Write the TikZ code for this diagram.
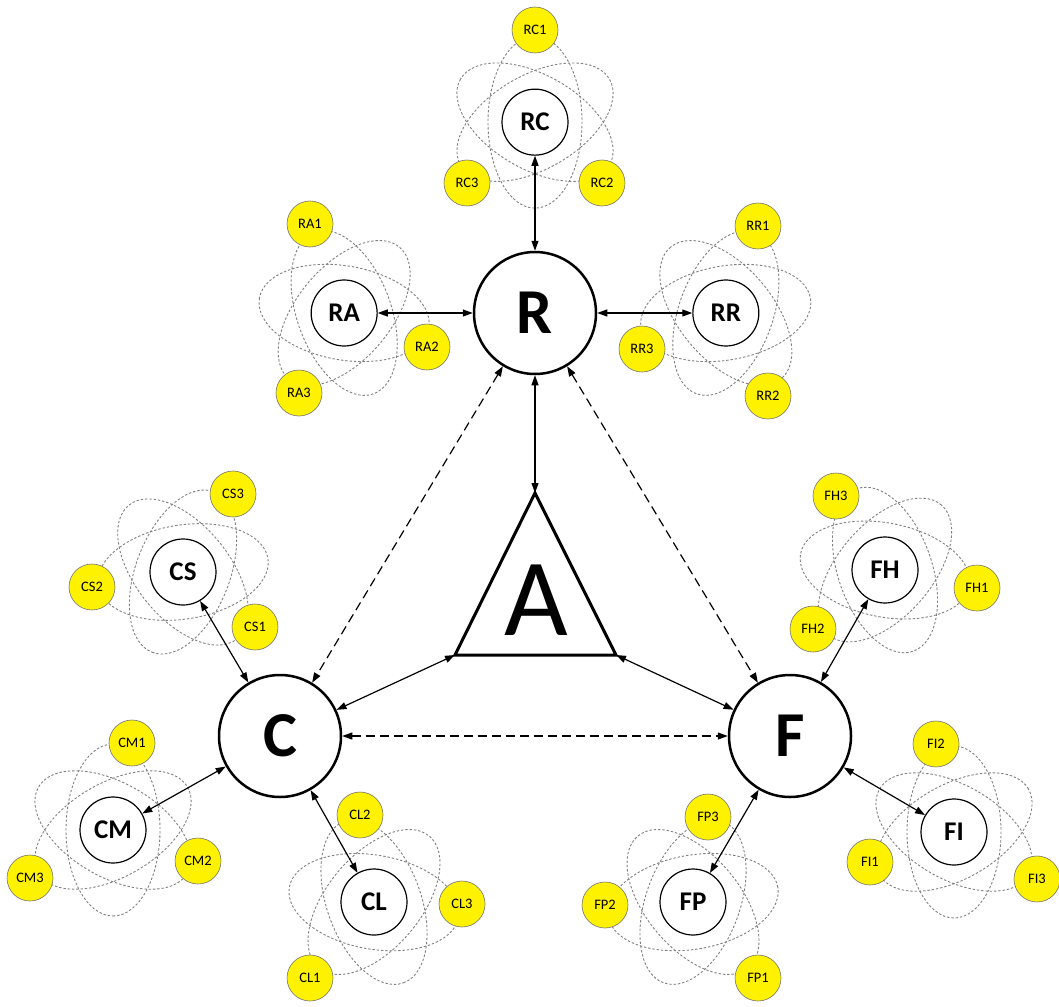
\documentclass[tikz,border=0pt]{standalone}
\usepackage{fontspec}
\setmainfont{Carlito}
\usetikzlibrary{arrows.meta,positioning,backgrounds}

\begin{document}
\begin{tikzpicture}[
    x=1pt, y=-1pt,
    node distance=95pt,
    core/.style={draw, circle, line width=2.5pt, fill=white, minimum size=122pt, inner sep=0pt, font=\fontsize{64}{64}\selectfont\bfseries},
    satellite/.style={draw, circle, line width=1.2pt, fill=white, minimum size=66pt, inner sep=0pt, font=\fontsize{27}{27}\selectfont\bfseries},
    electron/.style={draw=black!55, circle, line width=0.6pt, fill=yellow, minimum size=46pt, inner sep=0pt, font=\fontsize{14.5}{14.5}\selectfont},
    orbit/.style={draw=black!50, line width=0.9pt, dash pattern=on 2.4pt off 1.9pt},
    arrow/.style={<->, >={Triangle[length=10pt, width=7pt]}, line width=1.2pt},
    dasharrow/.style={arrow, dash pattern=on 9pt off 5pt}
]
\useasboundingbox (0,0) rectangle (1059,1006);

% Core triad
\node[core] (R) at (535,313) {R};
\node[core] (C) at (280,736) {C};
\node[core] (F) at (790,736) {F};

% Triangle in the middle
\coordinate (Atop) at (535,493);
\coordinate (Aleft) at (455,655);
\coordinate (Aright) at (616,655);
\draw[line width=3pt] (Atop) -- (Aleft) -- (Aright) -- cycle;
\node[font=\fontsize{110}{110}\selectfont] (A) at (536,600) {A};

% Satellites of R
\node[satellite, above=of R] (RC) {RC};
\node[satellite, left=of R] (RA) {RA};
\node[satellite, right=of R] (RR) {RR};
\node[electron] (RC1) at (535,30) {RC1};
\node[electron] (RC2) at (602,183) {RC2};
\node[electron] (RC3) at (467,183) {RC3};
\node[electron] (RA1) at (310,224) {RA1};
\node[electron] (RA2) at (427,347) {RA2};
\node[electron] (RA3) at (299,393) {RA3};
\node[electron] (RR1) at (758,226) {RR1};
\node[electron] (RR2) at (768,396) {RR2};
\node[electron] (RR3) at (642,349) {RR3};

% Satellites of C
\node[satellite] (CS) at (183,572) {CS};
\node[satellite] (CM) at (113,830) {CM};
\node[satellite] (CL) at (374,902) {CL};
\node[electron] (CS1) at (255,627) {CS1};
\node[electron] (CS2) at (92,587) {CS2};
\node[electron] (CS3) at (233,494) {CS3};
\node[electron] (CM1) at (132,743) {CM1};
\node[electron] (CM2) at (198,861) {CM2};
\node[electron] (CM3) at (30,878) {CM3};
\node[electron] (CL1) at (310,978) {CL1};
\node[electron] (CL2) at (360,815) {CL2};
\node[electron] (CL3) at (462,904) {CL3};

% Satellites of F
\node[satellite] (FH) at (885,570) {FH};
\node[satellite] (FI) at (954,832) {FI};
\node[satellite] (FP) at (693,902) {FP};
\node[electron] (FH1) at (977,588) {FH1};
\node[electron] (FH2) at (813,629) {FH2};
\node[electron] (FH3) at (836,496) {FH3};
\node[electron] (FI1) at (870,862) {FI1};
\node[electron] (FI2) at (936,744) {FI2};
\node[electron] (FI3) at (1037,879) {FI3};
\node[electron] (FP1) at (758,978) {FP1};
\node[electron] (FP2) at (605,905) {FP2};
\node[electron] (FP3) at (708,817) {FP3};

% Orbits behind the satellites
\begin{scope}[on background layer]
\foreach \n/\r in {RC/90, RA/110, RR/70, CS/-171, CM/-150, CL/-130, FH/-11, FI/-30, FP/-50}
    \foreach \k in {0,60,120}
        \draw[orbit, rotate around={\r+\k:(\n)}] (\n) ellipse [x radius=86pt, y radius=47pt];
\end{scope}

% Arrows
\draw[arrow] (R) -- (RC);
\draw[arrow] (R) -- (RA);
\draw[arrow] (R) -- (RR);
\draw[arrow] (C) -- (CS);
\draw[arrow] (C) -- (CM);
\draw[arrow] (C) -- (CL);
\draw[arrow] (F) -- (FH);
\draw[arrow] (F) -- (FI);
\draw[arrow] (F) -- (FP);
\draw[arrow] (R) -- (Atop);
\draw[arrow] (C) -- (Aleft);
\draw[arrow] (F) -- (Aright);
\draw[dasharrow] (R) -- (C);
\draw[dasharrow] (R) -- (F);
\draw[dasharrow] (C) -- (F);

\end{tikzpicture}
\end{document}
